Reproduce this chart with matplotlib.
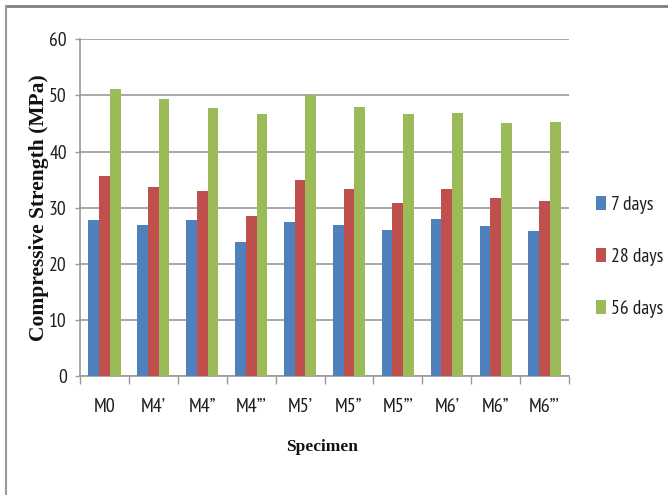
import matplotlib
matplotlib.use("Agg")
import matplotlib.pyplot as plt
import numpy as np
from matplotlib.lines import Line2D

categories = ["M0", "M4\u2019", "M4\u201d", "M4\u201d\u2019", "M5\u2019", "M5\u201d", "M5\u201d\u2019", "M6\u2019", "M6\u201d", "M6\u201d\u2019"]
days7 = [27.8, 26.9, 27.8, 23.8, 27.5, 26.9, 26.1, 28.0, 26.7, 25.9]
days28 = [35.7, 33.7, 33.0, 28.5, 34.9, 33.3, 30.9, 33.3, 31.7, 31.1]
days56 = [51.1, 49.4, 47.8, 46.7, 50.0, 48.0, 46.7, 46.9, 45.0, 45.3]
series_labels = ["7 days", "28 days", "56 days"]
colors = ["#4F81BD", "#C0504D", "#9BBB59"]
yticks = [0, 10, 20, 30, 40, 50, 60]

W, H = 668, 495
fig = plt.figure(figsize=(W / 100, H / 100), dpi=100)
ax = fig.add_axes([80 / W, 1 - 376 / H, (569 - 80) / W, (376 - 39.3) / H])

tick_font = ["PT Sans Narrow", "DejaVu Sans"]
txt_color = "#1e1e1e"
x = np.arange(len(categories))
bw = 0.22
for i, (vals, lab, c) in enumerate(zip([days7, days28, days56], series_labels, colors)):
    ax.bar(x + (i - 1) * bw, vals, width=bw, color=c, label=lab, zorder=3)

ax.set_xlim(-0.5, len(categories) - 0.5)
ax.set_ylim(0, 60)
ax.set_yticks(yticks)
ax.set_yticklabels([str(v) for v in yticks], fontfamily=tick_font, fontsize=14, color=txt_color)
ax.yaxis.grid(True, color="#9a9a9a", linewidth=1.2, zorder=0)
ax.set_axisbelow(True)

# category boundaries as major ticks, labels on minor ticks
ax.set_xticks(np.arange(-0.5, len(categories), 1.0))
ax.set_xticklabels([])
ax.set_xticks(x, minor=True)
ax.set_xticklabels(categories, minor=True, fontfamily=tick_font, fontsize=14.5, color=txt_color)
ax.tick_params(axis="x", which="major", length=6, width=1, color="#9a9a9a", direction="out")
ax.tick_params(axis="x", which="minor", length=0, pad=16)
ax.tick_params(axis="y", length=3.5, width=1, color="#9a9a9a", pad=6)

for s in ["top", "right"]:
    ax.spines[s].set_visible(False)
for s in ["left", "bottom"]:
    ax.spines[s].set_color("#9a9a9a")
    ax.spines[s].set_linewidth(1.2)

fig.text(39 / W, 1 - 208 / H, "Compressive Strength (MPa)", rotation=90, ha="center", va="center",
         fontfamily="Liberation Serif", fontweight="bold", fontsize=15.5, color="#111111")
fig.text(322 / W, 1 - 447 / H, "Specimen", ha="center", va="center",
         fontfamily="Liberation Serif", fontweight="bold", fontsize=12.5, color="#111111")

leg = fig.legend(loc="upper left", bbox_to_anchor=(596 / W, 1 - 196 / H), frameon=False,
                 prop={"family": tick_font, "size": 14}, handlelength=0.5, handleheight=0.75,
                 handletextpad=0.25, labelspacing=1.75, borderaxespad=0, borderpad=0)
for t in leg.get_texts():
    t.set_color(txt_color)

# figure frame (top and left borders)
fig.add_artist(Line2D([6 / W, 1], [1 - 6 / H, 1 - 6 / H], color="#7f7f7f", linewidth=2, transform=fig.transFigure))
fig.add_artist(Line2D([6 / W, 6 / W], [0, 1 - 6 / H], color="#9a9a9a", linewidth=1.5, transform=fig.transFigure))

fig.savefig("out.png", dpi=100)
